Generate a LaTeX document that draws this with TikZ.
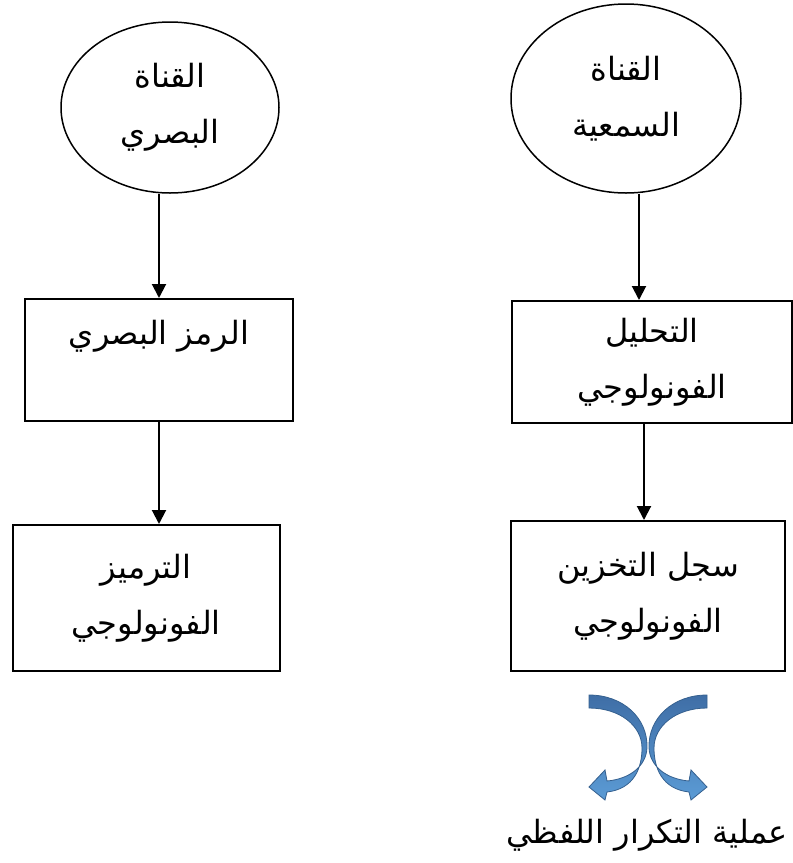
\documentclass[tikz,border=0pt]{standalone}
\usepackage{fontspec}
\newfontfamily\arabicfont[Script=Arabic]{DejaVu Sans}
\TeXXeTstate=1
\usetikzlibrary{shapes.geometric,arrows.meta}
\newcommand\artext[1]{\beginR #1\endR}
\definecolor{twistdark}{HTML}{3F6EA6}
\definecolor{twistlight}{HTML}{5B9BD5}
\definecolor{twistline}{HTML}{35608F}

\begin{document}
\begin{tikzpicture}[x=1pt,y=-1pt,
        every node/.style={font=\arabicfont\fontsize{32}{56}\selectfont,align=center},
        channel/.style={ellipse,draw,line width=1.5pt,inner sep=0pt},
        stagebox/.style={rectangle,draw,line width=2pt,inner sep=0pt},
        arr/.style={line width=2pt,-{Triangle[length=14pt,width=14pt]}}]
            \useasboundingbox (0,0) rectangle (793,863);
            % the two channels
            \node (visual) at (170,107.5) [channel,minimum width=218,minimum height=171] {\artext{القناة}\\\artext{البصري}};
            \node (audio) at (626,98.5) [channel,minimum width=230,minimum height=189] {\artext{القناة}\\\artext{السمعية}};
            % left column
            \node (symbol) at (159,360) [stagebox,minimum width=268,minimum height=122] {\artext{الرمز البصري}\\\mbox{}};
            \node (coding) at (146,598) [stagebox,minimum width=267,minimum height=146] {\artext{الترميز}\\\artext{الفونولوجي}};
            % right column
            \node (analysis) at (652,362) [stagebox,minimum width=280,minimum height=122] {\artext{التحليل}\\\artext{الفونولوجي}};
            \node (store) at (648,596) [stagebox,minimum width=274,minimum height=150] {\artext{سجل التخزين}\\\artext{الفونولوجي}};
            \node (rehearsal) at (647,835) {\artext{عملية التكرار اللفظي}};

            \draw[arr] (visual.south -| symbol.north) -- (symbol.north);
            \draw[arr] (symbol.south) -- (symbol.south |- coding.north);
            \draw[arr] ([xshift=13pt]audio.south) -- ([xshift=13pt]audio.south |- analysis.north);
            \draw[arr] ([xshift=-4pt]store.north |- analysis.south) -- ([xshift=-4pt]store.north);

            % twisted arrows above the rehearsal label
            \foreach \s in {1,-1}
            {
                \begin{scope}[shift={(648,0)},xscale=\s]
                    \draw[line width=0.8pt,draw=twistline,top color=twistdark,bottom color=twistlight]
                        (-59,695) .. controls (-25,695) and (0,718) .. (-1,748)
                        .. controls (-2,766) and (-18,779) .. (-41,781)
                        -- (-43,770) -- (-59,787) -- (-43,800) -- (-41,792)
                        .. controls (-14,789) and (-6,768) .. (-6,748)
                        .. controls (-6,726) and (-28,708) .. (-59,708) -- cycle;
                \end{scope}
            }
        \end{tikzpicture}
\end{document}
